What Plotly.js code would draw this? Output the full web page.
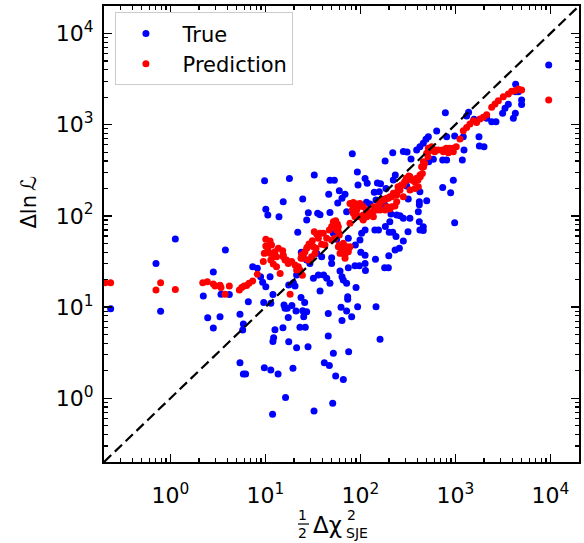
<!DOCTYPE html>
<html><head><meta charset="utf-8">
<script src="https://cdn.plot.ly/plotly-3.0.1.min.js"></script>
<style>html,body{margin:0;padding:0;background:#fff}#chart{width:584px;height:543px}</style>
</head><body><div id="chart"></div>
<script>
const trueX = [0.235,0.705,0.789,1.127,3.79,2.83,2.22,2.47,2.83,3.33,3.41,4.17,5.40,5.86,5.77,6.61,7.35,8.22,5.40,5.86,6.19,9.74,11.4,13.6,16.3,11.9,19.5,32.5,51.1,66.1,54.9,41.7,47.1,51.9,75.2,45.9,21.3,17.6,28.1,12.6,12.0,12.2,15.3,23.1,26.3,17.4,21.0,24.7,27.2,25.3,15.7,16.1,17.0,19.0,25.9,9.6,11.4,12.0,9.35,10.1,8.9,11.2,20.5,19.7,21.3,17.6,23.7,21.9,27.2,28.3,24.7,15.4,13.9,10.1,10.6,9.8,17.9,32.7,47.8,53.2,82.2,92.9,94.4,112,118,151,163,182,219,283,310,233,186,140,146,116,126,60,57.7,46.4,64,68.9,71.6,47.8,35.5,37.6,23.9,27.2,29.4,34.7,39.1,32,36.1,41,44.2,47.8,37.6,49.8,49.8,51.9,56.2,74.6,66.1,88.5,99,103,112,101,112,97.5,112,113,87.7,74.6,61,64,66,71.6,90,73.5,73.5,62.5,71.6,80.9,93.5,64,45.9,146,161,144,180,197,199,232,257,237,283,201,219,142,155,183,204,210,261,283,332,317,417,423,459,459,407,417,417,499,319,423,307,174,182,341,391,423,459,490,519,635,524,586,735,809,784,809,735,891,951,982,982,1183,1231,1211,1313,1377,1570,1771,1786,2000,2133,2410,2673,3141,3327,3606,4074,4276,4305,4305,4600,4977,4977,9594,158,222,241];
const trueY = [9.6,30.1,8.98,55.7,42.3,24.2,13.2,7.65,5.89,7.85,13.8,13.7,8.32,6.52,5.60,11.4,27.7,26.6,2.45,1.85,1.85,2.16,2.04,1.85,1.02,0.667,2.13,0.724,0.879,1.61,1.75,2.45,2.28,3.11,3.24,4.82,3.59,4.17,3.68,5.65,4.2,4.6,5.94,6.0,6.0,7.7,9.06,9.1,8.9,7.85,10.5,9.7,9.7,10.4,11.2,11.2,11.0,13.7,18.7,16.7,21.5,21.5,17.0,18.5,22.4,17.5,12.7,65.9,90.1,108,153,143,98,118,102,243,256,281,245,245,481,303,218,256,228,229,225,399,493,509,500,281,200,181,149,141,135,189,138,172,156,172,111,109,107,103,39.8,32.8,30.1,38.8,35.7,20.7,22.4,22.4,20.7,18.2,15.0,30.1,34.8,64.3,55.3,56.8,45.9,47.9,54.3,64.3,70,39.8,36.9,28.4,30.1,25.1,28.4,27,24.8,21.5,19.8,18.2,16.4,13,12.2,9.93,9.06,7.85,10.1,7.1,8.5,10.1,4.43,33.4,27,27,36.6,42.3,44.1,59.2,53,65.9,65.9,70,70,76.2,86.3,105,100,94,94,67,86.3,70,76,69,111,143,132,146,153,184,212,152,131,420,527,574,624,690,738,851,393,417,410,410,1352,738,204,179,245,84.2,750,409,527,738,1245,1365,1143,738,584,574,1172,1079,1079,1330,1510,1671,1172,1330,2767,2300,2300,1660,1860,4508,184,247,102];
const predX = [0.205,0.235,0.705,0.789,1.127,2.19,2.45,2.83,2.95,3.33,3.41,3.76,4.17,5.32,5.63,5.96,6.35,6.72,7.35,8.22,9.5,9.74,10.1,11.2,11.6,10.1,10.6,11.2,12.1,11.4,12.1,13.1,13.7,15.2,15.4,16.1,17.4,18.9,20.5,22.2,23.1,21.3,14.3,18.2,24.5,23.7,25.1,26.1,27.6,28.8,31.2,32.7,34.7,36.1,37.6,32.0,34.1,39.1,42.4,44.2,47.1,49.8,51.9,54.9,57.2,56.2,60,60,63.5,66.1,71.6,74.6,68.9,80.9,84.3,91.4,95.1,87.7,82.2,91.4,99,107,116,126,135,143,155,168,182,197,213,231,245,231,204,182,249,270,292,304,324,343,372,404,427,449,463,475,514,535,558,605,656,728,802,869,942,1021,747,843,951,1117,1211,1313,1422,1542,1671,1811,1968,2133,2410,2612,2831,3192,3606,3908,4236,4592,4977,9594,84.3,91.3,99,107,116,126,137,148,161,174,189,204,222,241,261,283,307,333,361,391,424,441,460,498,519,562,610,77.7,87.7,99,107,116,126,137,161,189,213,241,283,333,376,407,77.7,84.3,54,58.6,12.6,13.1,15.4,16.7,24.1,25.1,27.2,29.5,33.3,30.7,28.3,49.8,54,58.6,40.7,58.6,66.1,71.7,68.8,74.6,61,77.7];
const predY = [18.5,18.5,15.4,18.5,15.6,18.5,19.0,17.9,17.0,17.3,16.4,13.8,17.0,15.4,16.4,17.0,17.2,18.2,19.3,22.9,31.5,38.8,55.3,53,47.9,46.7,42.3,38.8,35.7,32.8,29.6,27.7,44.1,41.5,37.2,32.8,30.1,31.5,28.9,27.7,25.5,25.5,23.4,13.8,22.3,34.2,37.2,40.5,45.2,49.1,53.5,67.1,62.7,56.8,64.3,45.9,44.1,48.8,47.9,56.8,70,76.2,86.3,88.5,81.5,70,61.7,47.9,44.1,38.8,45.9,43,34.2,135,140,135,126,121,116,102,98,90,98,107,111,121,131,146,152,156,162,169,184,128,119,116,209,218,237,258,274,247,237,247,269,292,346,377,446,519,551,506,527,527,551,551,551,574,506,493,506,697,859,933,1016,1104,1059,1153,1202,1285,1549,1686,1832,2028,2168,2317,2360,2460,2399,1862,126,116,137,126,116,107,126,116,137,149,156,162,177,169,192,218,247,269,247,258,281,346,393,485,550,574,527,83,98,98,102,98,102,98,116,126,126,143,162,192,200,209,137,107,86.4,76,40.5,35.7,35.7,32.8,37.2,34.2,44.1,47.9,38.8,35.7,32.8,54.4,56.7,67,64.3,45.9,50,42.2,37.2,40.5,38.8,45.9];
const diagX = [0.2, 20000];
const diagY = [0.2, 20000];
const tickVals = [1, 10, 100, 1000, 10000];
const tickText = ['10<sup>0</sup>', '10<sup>1</sup>', '10<sup>2</sup>', '10<sup>3</sup>', '10<sup>4</sup>'];
const axisMin = 0.2, axisMax = 20000;

const minorVals = [];
for (let d = -1; d <= 4; d++) for (let k = 2; k <= 9; k++) { const v = k * Math.pow(10, d); if (v >= axisMin && v <= axisMax) minorVals.push(v); }

const FONT = 'DejaVu Sans, sans-serif';
function axis(standoff) {
  return {
    type: 'log', range: [Math.log10(axisMin), Math.log10(axisMax)],
    showline: true, linewidth: 2, linecolor: '#000', mirror: 'allticks',
    ticks: 'inside', ticklen: 8, tickwidth: 1.5, tickcolor: '#000',
    tickmode: 'array', tickvals: tickVals, ticktext: tickText,
    tickfont: {family: FONT, size: 22, color: '#000'}, ticklabelstandoff: standoff,
    showgrid: false, zeroline: false,
    minor: {ticks: 'inside', ticklen: 4, tickwidth: 1.2, tickcolor: '#000', tickmode: 'array', tickvals: minorVals, showgrid: false}
  };
}
const traces = [
  {x: trueX, y: trueY, type: 'scatter', mode: 'markers', name: '\u00a0True', legendgroup: 'a',
   marker: {color: '#0000ff', size: 7}},
  {x: predX, y: predY, type: 'scatter', mode: 'markers', name: '\u00a0Prediction', legendgroup: 'b',
   marker: {color: '#ff0000', size: 7}},
  {x: diagX, y: diagY, type: 'scatter', mode: 'lines', showlegend: false,
   line: {color: '#000', width: 2.2, dash: '10px,5px'}}
];
const ann = (text, x, y, size, xanchor, extra) => Object.assign({text, x, y, xref: 'paper', yref: 'paper', showarrow: false,
  xanchor: xanchor || 'center', yanchor: 'middle', font: {family: FONT, size, color: '#000'}}, extra || {});
const layout = {
  width: 584, height: 543,
  margin: {l: 104, r: 5, t: 6, b: 81},
  paper_bgcolor: '#fff', plot_bgcolor: '#fff',
  xaxis: axis(13), yaxis: axis(4),
  showlegend: true,
  legend: {x: 0.023, y: 0.986, xanchor: 'left', yanchor: 'top', bgcolor: '#fff', bordercolor: '#cccccc', borderwidth: 1,
    font: {family: FONT, size: 21, color: '#000'}, itemwidth: 50, traceorder: 'grouped', tracegroupgap: 0},
  annotations: [
    ann('1', 0.4189, -0.1162, 14),
    ann('2', 0.4189, -0.1557, 14),
    ann('Δχ', 0.4358, -0.1382, 23, 'left'),
    ann('2', 0.5074, -0.1162, 14, 'left'),
    ann('SJE', 0.5053, -0.1557, 14, 'left'),
    ann('Δln\u2009ℒ', -0.158, 0.571, 21, 'center', {textangle: -90})
  ],
  shapes: [
    {type: 'line', xref: 'paper', yref: 'paper', x0: 0.4084, x1: 0.4316, y0: -0.1360, y1: -0.1360, line: {color: '#000', width: 1.2}}
  ]
};
Plotly.newPlot('chart', traces, layout, {displayModeBar: false, staticPlot: true});
</script>
</body></html>
